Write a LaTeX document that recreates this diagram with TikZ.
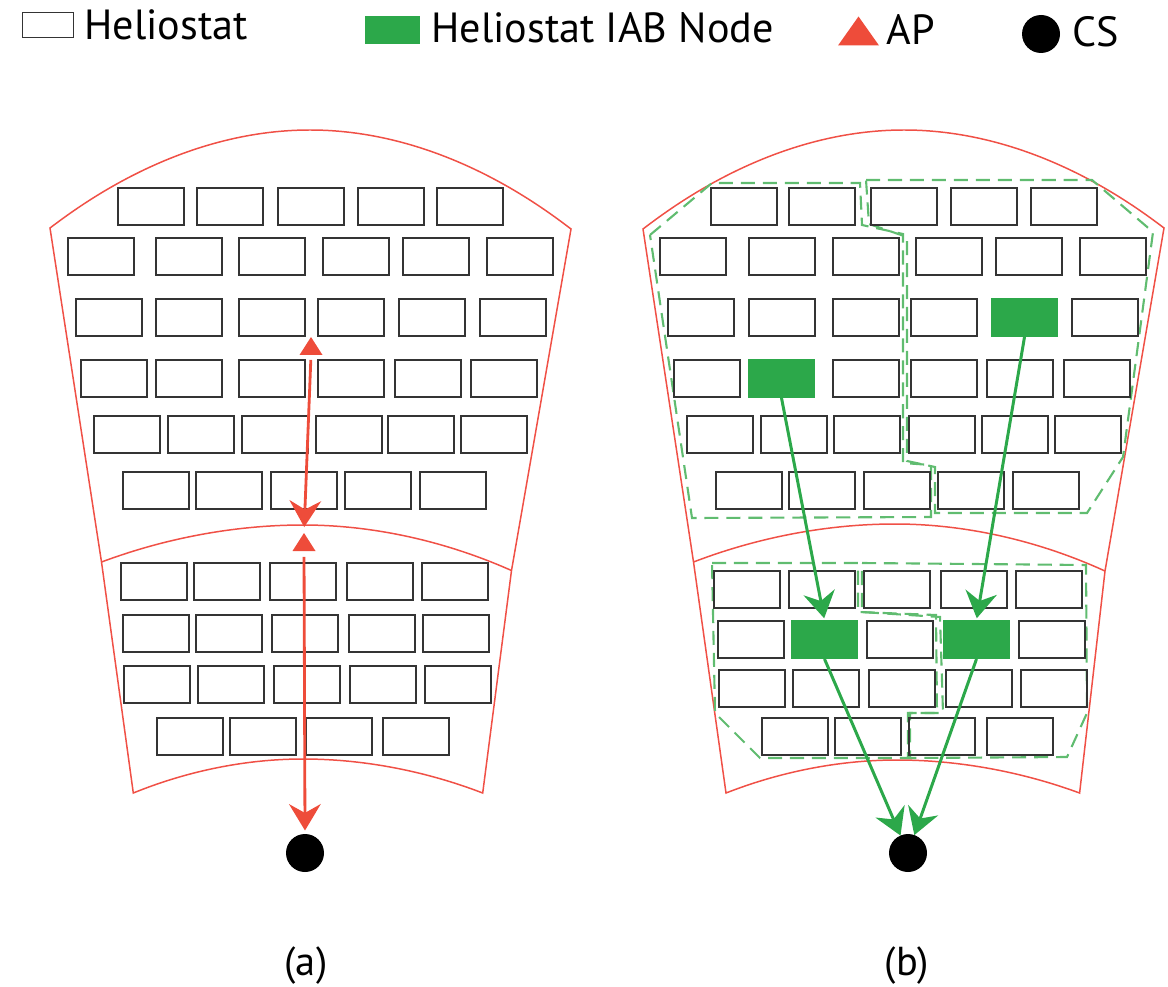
\documentclass[tikz,border=0pt]{standalone}
\usepackage{fontspec}
\setmainfont{PT Sans}
\usetikzlibrary{arrows.meta}

\definecolor{apred}{RGB}{238,76,58}
\definecolor{fieldred}{RGB}{240,80,70}
\definecolor{iabgreen}{RGB}{44,168,74}
\definecolor{zonegreen}{RGB}{96,188,112}
\definecolor{helioedge}{RGB}{52,52,52}

\tikzset{
  helio/.style={draw=helioedge, line width=1.2pt, anchor=north west,
    minimum width=1.32cm, minimum height=0.74cm, inner sep=0pt, outer sep=0pt},
  iab/.style={fill=iabgreen, anchor=north west,
    minimum width=1.34cm, minimum height=0.78cm, inner sep=0pt, outer sep=0pt},
  apmark/.style={minimum width=0.46cm, minimum height=0.36cm, inner sep=0pt, outer sep=0pt,
    path picture={\fill[apred] (path picture bounding box.south west)
      -- (path picture bounding box.south east)
      -- (path picture bounding box.north) -- cycle;}},
  csmark/.style={circle, fill=black, minimum size=0.76cm, inner sep=0pt, outer sep=0pt},
  field/.style={draw=fieldred, line width=0.85pt, line join=miter},
  zone/.style={draw=zonegreen, line width=1.2pt, dash pattern=on 8pt off 4.5pt},
  redlink/.style={draw=apred, line width=1.6pt,
    -{Stealth[length=15pt, width=18pt, inset=5pt]}},
  greenlink/.style={draw=iabgreen, line width=1.7pt,
    -{Stealth[length=15pt, width=18pt, inset=5pt]}},
  legendtext/.style={anchor=base west, inner sep=0pt, font=\fontsize{24}{28}\selectfont},
  caption/.style={inner sep=0pt, font=\fontsize{23}{27}\selectfont}
}

\begin{document}
\begin{tikzpicture}[x=0.02cm, y=-0.02cm]
\useasboundingbox (0,0) rectangle (1168,986);

% ---------- legend ----------
\node[helio, anchor=center, minimum width=1.02cm, minimum height=0.5cm, line width=0.9pt] (lgHelio) at (48,25) {};
\node[legendtext] (lgHelioText) at (84,40) {Heliostat};
\node[iab, anchor=center, minimum width=1.1cm, minimum height=0.56cm] (lgIab) at (392.5,30) {};
\node[legendtext] (lgIabText) at (431,43) {Heliostat IAB Node};
\node[apmark, minimum width=0.82cm, minimum height=0.58cm] (lgAp) at (858.5,31) {};
\node[legendtext] (lgApText) at (886,45) {AP};
\node[csmark] (lgCs) at (1041,34) {};
\node[legendtext] (lgCsText) at (1072,47) {CS};

% ---------- field outlines ----------
\draw[field] (50,228) parabola bend (310,130) (571,229) -- (511.5,570.5)
  -- (482.7,793) parabola bend (303,759) (133.3,793) -- (101.5,562) -- cycle;
\draw[field] (101.5,562) parabola bend (303,525) (511.5,570.5);

\draw[field] (643,229) parabola bend (904,130) (1164,228) -- (1105,571)
  -- (1079.6,793) parabola bend (897,760) (726,793) -- (693.5,562) -- cycle;
\draw[field] (693.5,562) parabola bend (895,524) (1105,571);

% ---------- IAB zones (dashed) ----------
\draw[zone] (650,235) -- (712,183) -- (860,183) -- (862,225) -- (903,234)
  -- (903,463) -- (931,465) -- (931,517) -- (692,518) -- cycle;
\draw[zone] (866,180) -- (1092,180) -- (1153,232) -- (1123,457) -- (1087,513)
  -- (935,513) -- (935,467) -- (907,461) -- (907,237) -- (869,224) -- cycle;
\draw[zone] (712,563) -- (858,563) -- (858,612) -- (936,615) -- (937,713)
  -- (908,713) -- (908,758) -- (760,758) -- (715,713) -- cycle;
\draw[zone] (862,563) -- (1086,565) -- (1087,713) -- (1067,757) -- (910,758)
  -- (910,713) -- (943,713) -- (940,617) -- (862,612) -- cycle;

% ---------- heliostats, field (a) ----------
\foreach \y/\xs in {187/{117,196,277,357,436},
                    237/{67,155,238,322,402,486},
                    298/{75,155,238,317,398,479},
                    359/{80,155,238,317,394,470},
                    415/{93,167,241,315,387,460},
                    471/{122,195,270,344,419},
                    562/{120,193,269,346,421},
                    614/{122,195,271,348,422},
                    665/{123,197,273,349,424},
                    717/{156,229,305,382}}{
  \foreach \x in \xs {
    \node[helio] (ha-\x-\y) at (\x+1,\y+1) {};
  }
}

% ---------- heliostats, field (b) ----------
\foreach \y/\xs in {187/{710,788,870,950,1030},
                    237/{659,748,832,915,995,1079},
                    298/{667,748,832,910,1071},
                    359/{673,832,910,986,1063},
                    415/{686,760,833,908,981,1054},
                    471/{715,788,863,937,1012},
                    570/{713,788,863,940,1015},
                    620/{717,866,1018},
                    669/{718,792,868,945,1020},
                    717/{761,834,908,986}}{
  \foreach \x in \xs {
    \node[helio] (hb-\x-\y) at (\x+1,\y+1) {};
  }
}

% IAB heliostat nodes
\node[iab] (iabA) at (748,359) {};
\node[iab] (iabB) at (991,298) {};
\node[iab] (iabC) at (791,620) {};
\node[iab] (iabD) at (943,620) {};

% ---------- access points and control stations ----------
\node[apmark] (apTop) at (311,346) {};
\node[apmark] (apMid) at (304,542) {};
\node[csmark] (csA) at (305,853) {};
\node[csmark] (csB) at (908,853) {};

% ---------- links ----------
\draw[redlink, shorten <=2.8pt, shorten >=3.4pt] (apTop.south) -- (apMid.north);
\draw[redlink, shorten <=3.4pt, shorten >=2pt] (apMid.south) -- (csA.north);

\draw[greenlink, shorten >=1pt] (iabA.south) -- (iabC.north);
\draw[greenlink, shorten >=1pt] (iabB.south) -- (iabD.north);
\draw[greenlink] (iabC.south) -- (csB);
\draw[greenlink] (iabD.south) -- (csB);

% ---------- captions ----------
\node[caption] (capA) at (306,966) {(a)};
\node[caption] (capB) at (907,966) {(b)};
\end{tikzpicture}
\end{document}
